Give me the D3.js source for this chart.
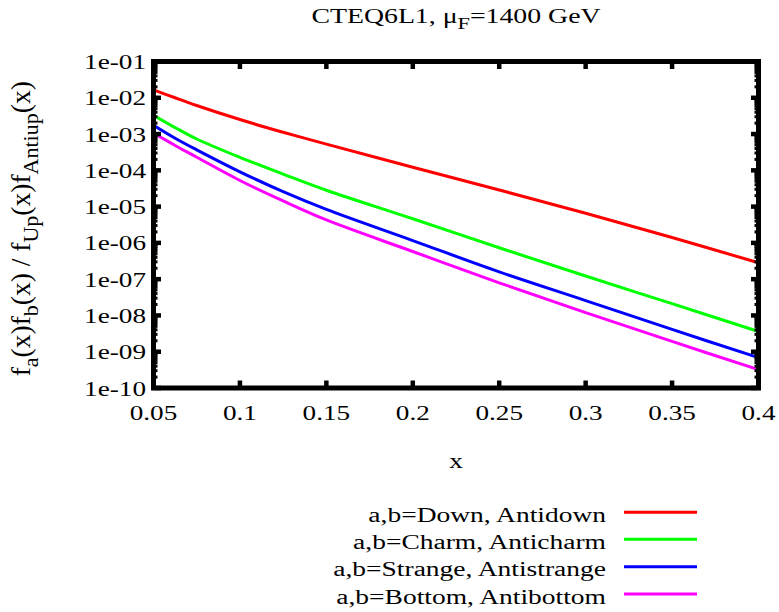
<!DOCTYPE html>
<html>
<head>
<meta charset="utf-8">
<script src="https://cdn.jsdelivr.net/npm/d3@7"></script>
<style>
  html, body { margin: 0; padding: 0; background: #fff; }
  svg { display: block; }
  text { font-family: "Liberation Serif", "Times New Roman", serif; fill: #000; }
</style>
</head>
<body>
<svg id="chart" width="779" height="612"></svg>
<script>
// Parton luminosity ratios vs momentum fraction x
const xValues = [0.05, 0.0625, 0.075, 0.1, 0.125, 0.15, 0.2, 0.25, 0.3, 0.35, 0.4];
const downAntidown = [1.66e-2, 1.00e-2, 6.12e-3, 2.51e-3, 1.12e-3, 5.27e-4, 1.22e-4, 2.87e-5, 6.56e-6, 1.41e-6, 2.83e-7];
const charmAnticharm = [3.31e-3, 1.51e-3, 7.31e-4, 2.28e-4, 7.87e-5, 2.83e-5, 4.62e-6, 7.33e-7, 1.22e-7, 2.11e-8, 3.62e-9];
const strangeAntistrange = [1.75e-3, 7.69e-4, 3.68e-4, 9.12e-5, 2.58e-5, 8.37e-6, 1.16e-6, 1.59e-7, 2.57e-8, 4.12e-9, 6.86e-10];
const bottomAntibottom = [1.06e-3, 4.84e-4, 2.30e-4, 5.25e-5, 1.43e-5, 4.28e-6, 5.79e-7, 7.93e-8, 1.20e-8, 1.92e-9, 3.20e-10];

const seriesNames = ["a,b=Down, Antidown", "a,b=Charm, Anticharm", "a,b=Strange, Antistrange", "a,b=Bottom, Antibottom"];
const seriesColors = ["#ff0000", "#00ff00", "#0000ff", "#ff00ff"];
const seriesValues = [downAntidown, charmAnticharm, strangeAntistrange, bottomAntibottom];

const xTickValues = [0.05, 0.1, 0.15, 0.2, 0.25, 0.3, 0.35, 0.4];
const xTickLabels = ["0.05", "0.1", "0.15", "0.2", "0.25", "0.3", "0.35", "0.4"];
const yTickValues = [1e-1, 1e-2, 1e-3, 1e-4, 1e-5, 1e-6, 1e-7, 1e-8, 1e-9, 1e-10];
const yTickLabels = ["1e-01", "1e-02", "1e-03", "1e-04", "1e-05", "1e-06", "1e-07", "1e-08", "1e-09", "1e-10"];

const svg = d3.select("#chart");
const plotLeft = 153.5, plotRight = 758.5, plotTop = 61.5, plotBottom = 388;
const FS = 20;      // font size
const SX = 1.36;    // horizontal stretch of the lettering

const x = d3.scaleLinear().domain([0.05, 0.4]).range([plotLeft, plotRight]);
const y = d3.scaleLog().domain([1e-10, 1e-1]).range([plotBottom, plotTop]);

// Text built from pieces; pieces flagged sub are lowered and shrunk
function richText(parent, px, py, anchor, parts, opts = {}) {
  const fs = opts.fs || FS;
  const g = parent.append("g")
    .attr("transform", opts.rotate
      ? `translate(${px},${py}) rotate(-90) scale(1,${opts.cross || SX})`
      : `translate(${px},${py}) scale(${opts.sx || SX},1)`);
  const t = g.append("text").attr("text-anchor", anchor).attr("font-size", fs);
  let shifted = false;
  parts.forEach(p => {
    const sp = t.append("tspan").text(p.t);
    if (p.sub && !shifted) { sp.attr("dy", 0.3 * fs).attr("font-size", fs * 0.8); shifted = true; }
    else if (p.sub) { sp.attr("font-size", fs * 0.8); }
    else if (shifted) { sp.attr("dy", -0.3 * fs); shifted = false; }
  });
  return t;
}

// Curves
svg.append("clipPath").attr("id", "plotclip")
  .append("rect").attr("x", plotLeft).attr("y", plotTop)
  .attr("width", plotRight - plotLeft).attr("height", plotBottom - plotTop);

const line = d3.line()
  .x(d => x(d[0]))
  .y(d => y(d[1]))
  .curve(d3.curveCatmullRom.alpha(0.5));

const curves = svg.append("g").attr("clip-path", "url(#plotclip)");
seriesValues.forEach((vals, i) => {
  curves.append("path")
    .datum(xValues.map((xv, j) => [xv, vals[j]]))
    .attr("d", line)
    .attr("fill", "none")
    .attr("stroke", seriesColors[i])
    .attr("stroke-width", 3);
});

// Ticks (inward, mirrored on opposite sides)
const tickG = svg.append("g").attr("stroke", "#000");
xTickValues.forEach(v => {
  tickG.append("line").attr("x1", x(v)).attr("x2", x(v)).attr("y1", plotBottom).attr("y2", plotBottom - 7.5).attr("stroke-width", 4.5);
  tickG.append("line").attr("x1", x(v)).attr("x2", x(v)).attr("y1", plotTop).attr("y2", plotTop + 7.5).attr("stroke-width", 4.5);
});
yTickValues.forEach(v => {
  tickG.append("line").attr("x1", plotLeft).attr("x2", plotLeft + 7.5).attr("y1", y(v)).attr("y2", y(v)).attr("stroke-width", 4.5);
  tickG.append("line").attr("x1", plotRight).attr("x2", plotRight - 7.5).attr("y1", y(v)).attr("y2", y(v)).attr("stroke-width", 4.5);
});
// minor log ticks
for (let e = -10; e < -1; e++) {
  for (let m = 2; m <= 9; m++) {
    const v = m * Math.pow(10, e);
    tickG.append("line").attr("x1", plotLeft).attr("x2", plotLeft + 4).attr("y1", y(v)).attr("y2", y(v)).attr("stroke-width", 3);
    tickG.append("line").attr("x1", plotRight).attr("x2", plotRight - 4).attr("y1", y(v)).attr("y2", y(v)).attr("stroke-width", 3);
  }
}

// Frame
svg.append("rect")
  .attr("x", plotLeft).attr("y", plotTop)
  .attr("width", plotRight - plotLeft).attr("height", plotBottom - plotTop)
  .attr("fill", "none").attr("stroke", "#000").attr("stroke-width", 5);

// Tick labels
xTickValues.forEach((v, i) => {
  richText(svg, x(v), 419.5, "middle", [{t: xTickLabels[i]}]);
});
yTickValues.forEach((v, i) => {
  richText(svg, 146, y(v) + 7.5, "end", [{t: yTickLabels[i]}]);
});

// Titles
richText(svg, (plotLeft + plotRight) / 2, 23, "middle",
  [{t: "CTEQ6L1, μ"}, {t: "F", sub: true}, {t: "=1400 GeV"}], {sx: 1.39});
richText(svg, (plotLeft + plotRight) / 2, 468, "middle", [{t: "x"}]);
richText(svg, 30, (plotTop + plotBottom) / 2 + 4, "middle",
  [{t: "f"}, {t: "a", sub: true}, {t: "(x)f"}, {t: "b", sub: true}, {t: "(x) / f"},
   {t: "Up", sub: true}, {t: "(x)f"}, {t: "Antiup", sub: true}, {t: "(x)"}],
  {rotate: true, fs: 27.5, cross: 1.0});

// Legend
const legendY = [512.3, 539.3, 566.7, 594];
seriesNames.forEach((name, i) => {
  richText(svg, 606, legendY[i] + 9.5, "end", [{t: name}], {sx: 1.375});
  svg.append("line")
    .attr("x1", 624).attr("x2", 697)
    .attr("y1", legendY[i]).attr("y2", legendY[i])
    .attr("stroke", seriesColors[i]).attr("stroke-width", 3);
});
</script>
</body>
</html>
